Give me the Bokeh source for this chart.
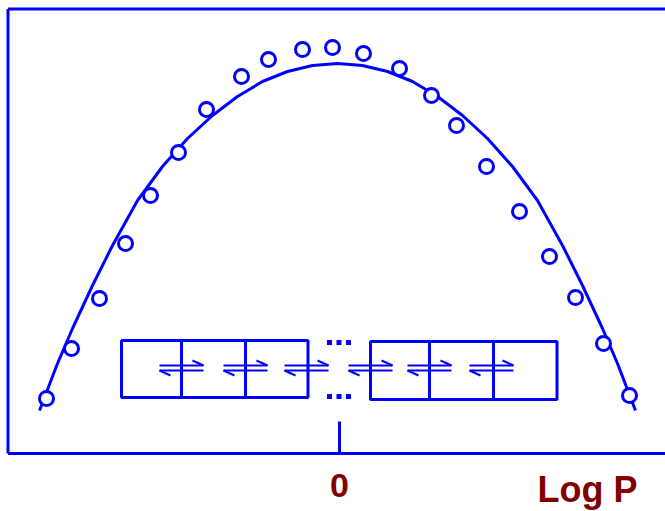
from bokeh.plotting import figure
from bokeh.models import Range1d
from bokeh.embed import file_html
from bokeh.resources import INLINE
from bokeh.core.properties import value

# Measured activity points versus lipophilicity (x: log P offset, y: activity)
point_x = [-293, -268, -240, -214, -189, -161, -133, -98, -71, -37, -7,
           24, 60, 92, 117, 147, 180, 210, 236, 264, 290]
point_y = [55, 105, 155, 210, 258, 301, 344, 377, 394, 404, 406,
           400, 385, 358, 328, 287, 242, 197, 156, 110, 58]

# Parabolic trend through the data
curve_x = [-300, -282, -267, -247, -227, -202, -177, -152, -127, -102, -77, -52, -27, -2,
           23, 48, 73, 98, 123, 148, 173, 198, 223, 243, 263, 278, 296]
curve_y = [43, 90, 125, 168, 208, 253, 287, 315, 338, 357, 372, 382, 388, 390,
           388, 382, 372, 357, 338, 315, 287, 253, 208, 168, 125, 90, 43]

# Membrane compartments (cell edges) and partition equilibria between them
left_cells = [-218, -158, -94, -31.5]
right_cells = [31, 90, 154, 217.5]
cells_top_left, cells_bottom_left = 113, 56
cells_top_right, cells_bottom_right = 112, 54
equilibrium_x = [-180, -116, -55, 9, 68, 130]
ellipsis_x = [-10, -0.5, 9]

BLUE = "#0000ff"
MAROON = "#800000"

p = figure(width=665, height=511, output_backend="svg", toolbar_location=None,
           x_range=Range1d(-339, 326), y_range=Range1d(-58, 453),
           min_border=0, x_axis_type=None, y_axis_type=None)
p.outline_line_color = None
p.grid.visible = False
p.background_fill_color = "white"
p.border_fill_color = "white"

# frame: left, top and baseline
p.segment(x0=[-331.5, -331.5, -331.5], y0=[0, 444.5, 0],
          x1=[-331.5, 330, 330], y1=[444.5, 444.5, 0],
          line_color=BLUE, line_width=3)
# tick at log P = 0
p.segment(x0=[0], y0=[0], x1=[0], y1=[32], line_color=BLUE, line_width=3)

# trend curve and data points
p.line(curve_x, curve_y, line_color=BLUE, line_width=3, line_join="round")
p.scatter(point_x, point_y, marker="circle", size=14, fill_color="white",
          line_color=BLUE, line_width=3)

# compartments
for edges, top, bottom in [(left_cells, cells_top_left, cells_bottom_left),
                           (right_cells, cells_top_right, cells_bottom_right)]:
    p.quad(left=edges[:-1], right=edges[1:], top=top, bottom=bottom,
           fill_color=None, line_color=BLUE, line_width=3)

# equilibrium harpoons
L = 44
upper, lower = 88, 83
xs, ys = [], []
for x in equilibrium_x:
    xs += [[x, x + L], [x + L, x + L - 11], [x, x + L], [x, x + 11]]
    ys += [[upper, upper], [upper, upper + 5], [lower, lower], [lower, lower - 5]]
p.multi_line(xs, ys, line_color=BLUE, line_width=2)

# ellipsis between the two compartment groups
p.scatter(ellipsis_x * 2, [111] * 3 + [57] * 3, marker="square", size=5,
          fill_color=BLUE, line_color=None)

# labels
p.text(x=[0], y=[-32], text=["0"], text_align="center", text_baseline="alphabetic",
       text_font=value("Liberation Sans"), text_font_style="bold",
       text_font_size="34px", text_color=MAROON)
p.text(x=[248], y=[-36], text=["Log P"], text_align="center", text_baseline="alphabetic",
       text_font=value("Liberation Sans"), text_font_style="bold",
       text_font_size="36px", text_color=MAROON)

open("out.html", "w").write(file_html(p, INLINE))
